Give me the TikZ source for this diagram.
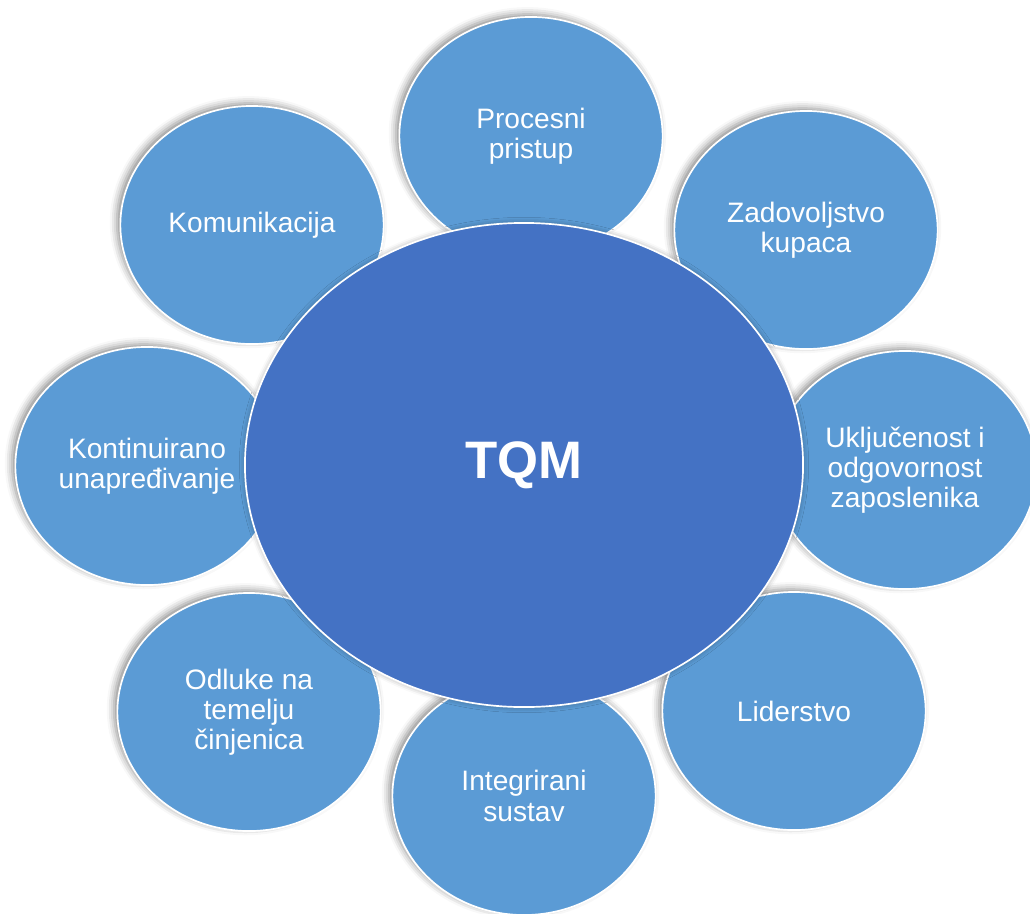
\documentclass[tikz,border=0pt]{standalone}
\usepackage{fontspec}
\setmainfont{Liberation Sans}
\usetikzlibrary{shapes.geometric, shadows.blur}

\definecolor{outerblue}{RGB}{91,155,213}
\definecolor{coreblue}{RGB}{68,114,196}

\begin{document}
\begin{tikzpicture}[x=0.025cm, y=-0.025cm,
    outer/.style={ellipse, draw=white, line width=1.2pt, fill=outerblue,
      minimum width=6.58cm, minimum height=5.95cm, inner sep=0pt,
      align=center, text=white, font=\fontsize{20}{21.5}\selectfont,
      blur shadow={shadow xshift=-2.5pt, shadow yshift=2pt,
        shadow blur radius=5pt, shadow opacity=45}},
    core/.style={ellipse, draw=white, line width=1.2pt, fill=coreblue,
      minimum width=13.95cm, minimum height=12.1cm, inner sep=0pt,
      text=white, font=\fontsize{37.5}{40}\selectfont\bfseries,
      blur shadow={shadow xshift=0pt, shadow yshift=0pt,
        shadow blur radius=4pt, shadow opacity=35}}]
  \useasboundingbox (0,0) rectangle (1030,913);

  % outer ring, clockwise from the top
  \node [outer] (proces) at (531,136) {Procesni\\pristup};
  \node [outer] (kupci) at (806,230) {Zadovoljstvo\\kupaca};
  \node [outer] (zaposlenici) at (905,470) {Uključenost i\\odgovornost\\zaposlenika};
  \node [outer] (lider) at (794,711) {Liderstvo};
  \node [outer] (sustav) at (524,796) {Integrirani\\sustav};
  \node [outer] (odluke) at (249,712) {Odluke na\\temelju\\činjenica};
  \node [outer] (unapred) at (147,466) {Kontinuirano\\unapređivanje};
  \node [outer] (komun) at (252,225) {Komunikacija};

  % centre
  \node [core] (tqm) at (524,465) {TQM};
\end{tikzpicture}
\end{document}
